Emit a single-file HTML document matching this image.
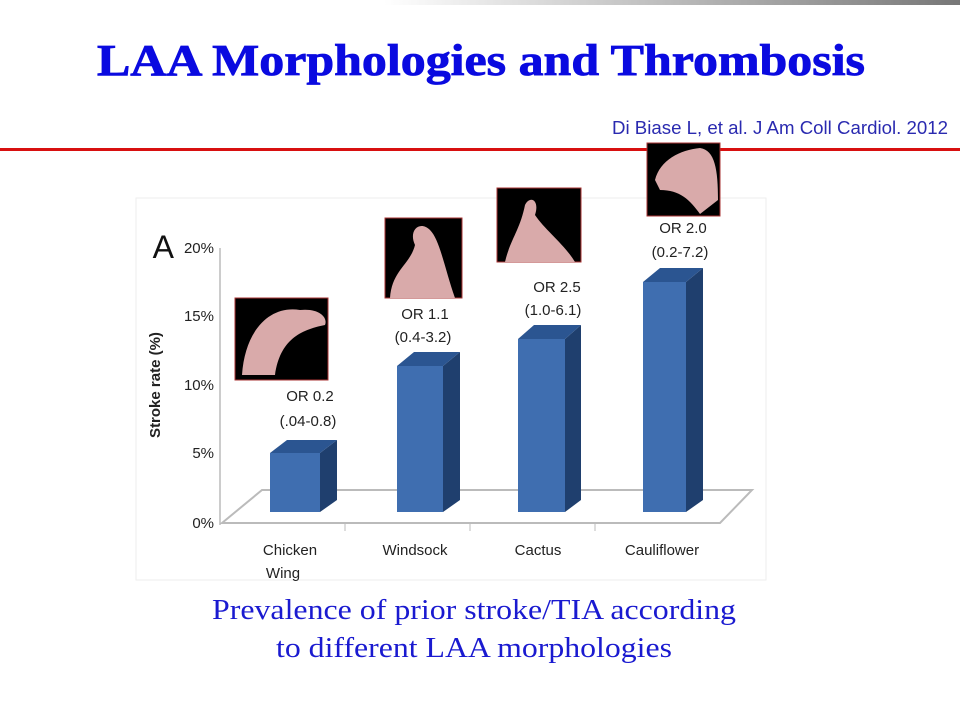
<!DOCTYPE html>
<html><head><style>
body{margin:0;width:960px;height:720px;background:#fff;overflow:hidden}
</style></head><body>
<svg width="960" height="720" viewBox="0 0 960 720" xmlns="http://www.w3.org/2000/svg">
<defs><linearGradient id="tg" x1="0" x2="1"><stop offset="0.4" stop-color="#fff"/><stop offset="1" stop-color="#777"/></linearGradient></defs>
<rect x="0" y="0" width="960" height="5" fill="url(#tg)"/>
<text x="97" y="75" textLength="768" lengthAdjust="spacingAndGlyphs" font-family="Liberation Serif, serif" font-weight="bold" font-size="44" fill="#0a0ae0" stroke="#0a0ae0" stroke-width="0.8">LAA Morphologies and Thrombosis</text>
<text x="612" y="134" textLength="336" lengthAdjust="spacingAndGlyphs" font-family="Liberation Sans, sans-serif" font-size="18" fill="#2a2ab0">Di Biase L, et al. J Am Coll Cardiol. 2012</text>
<rect x="0" y="148" width="960" height="3" fill="#d81010"/>
<rect x="136" y="198" width="630" height="382" fill="#fff" stroke="#eee"/>
<line x1="220" y1="248" x2="220" y2="525" stroke="#bbb" stroke-width="1.5"/>
<polygon points="222,523 262,490 752,490 720,523" fill="none" stroke="#bbb" stroke-width="2"/>
<g stroke="#bbb"><line x1="345" y1="523" x2="345" y2="531"/><line x1="470" y1="523" x2="470" y2="531"/><line x1="595" y1="523" x2="595" y2="531"/></g>
<g font-family="Liberation Sans, sans-serif" font-size="15" fill="#222" text-anchor="end">
<text x="214" y="253">20%</text><text x="214" y="321">15%</text><text x="214" y="390">10%</text><text x="214" y="458">5%</text><text x="214" y="528">0%</text></g>
<text x="174" y="258" font-family="Liberation Sans, sans-serif" font-size="32" fill="#111" text-anchor="end">A</text>
<text transform="translate(160,385) rotate(-90)" text-anchor="middle" font-family="Liberation Sans, sans-serif" font-weight="bold" font-size="15" fill="#222">Stroke rate (%)</text>
<g>
<polygon points="320,453 337,440 337,500 320,512" fill="#1f3f6e"/><polygon points="270,453 287,440 337,440 320,453" fill="#2b5591"/><rect x="270" y="453" width="50" height="59" fill="#3f6eb0"/>
<polygon points="443,366 460,352 460,500 443,512" fill="#1f3f6e"/><polygon points="397,366 414,352 460,352 443,366" fill="#2b5591"/><rect x="397" y="366" width="46" height="146" fill="#3f6eb0"/>
<polygon points="565,339 581,325 581,500 565,512" fill="#1f3f6e"/><polygon points="518,339 534,325 581,325 565,339" fill="#2b5591"/><rect x="518" y="339" width="47" height="173" fill="#3f6eb0"/>
<polygon points="686,282 703,268 703,500 686,512" fill="#1f3f6e"/><polygon points="643,282 660,268 703,268 686,282" fill="#2b5591"/><rect x="643" y="282" width="43" height="230" fill="#3f6eb0"/>
</g>
<g fill="#000" stroke="#a33" stroke-width="1">
<rect x="235" y="298" width="93" height="82"/><rect x="385" y="218" width="77" height="80"/><rect x="497" y="188" width="84" height="74"/><rect x="647" y="143" width="73" height="73"/></g>
<g fill="#d9aaaa">
<path d="M242,375 C245,330 270,305 300,310 C320,308 328,318 325,325 C300,330 280,340 275,375 Z"/>
<path d="M390,298 C392,270 410,265 415,245 C408,230 420,220 430,230 C440,240 445,270 455,298 Z"/>
<path d="M505,262 C510,240 520,230 525,205 C530,195 540,200 535,215 C545,230 565,245 575,262 Z"/>
<path d="M655,180 C660,160 680,150 700,148 C715,150 718,170 718,200 L700,214 C690,200 680,190 660,190 Z"/>
</g>
<g font-family="Liberation Sans, sans-serif" font-size="15" fill="#222" text-anchor="middle">
<text x="310" y="401">OR 0.2</text><text x="308" y="426">(.04-0.8)</text>
<text x="425" y="319">OR 1.1</text><text x="423" y="342">(0.4-3.2)</text>
<text x="557" y="292">OR 2.5</text><text x="553" y="315">(1.0-6.1)</text>
<text x="683" y="233">OR 2.0</text><text x="680" y="257">(0.2-7.2)</text>
<text x="290" y="555">Chicken</text><text x="283" y="578">Wing</text>
<text x="415" y="555">Windsock</text><text x="538" y="555">Cactus</text><text x="662" y="555">Cauliflower</text></g>
<g font-family="Liberation Serif, serif" font-size="28" fill="#1a1ad0">
<text x="212" y="619" textLength="524" lengthAdjust="spacingAndGlyphs">Prevalence of prior stroke/TIA according</text>
<text x="276" y="657" textLength="396" lengthAdjust="spacingAndGlyphs">to different  LAA morphologies</text></g>
</svg>
</body></html>
